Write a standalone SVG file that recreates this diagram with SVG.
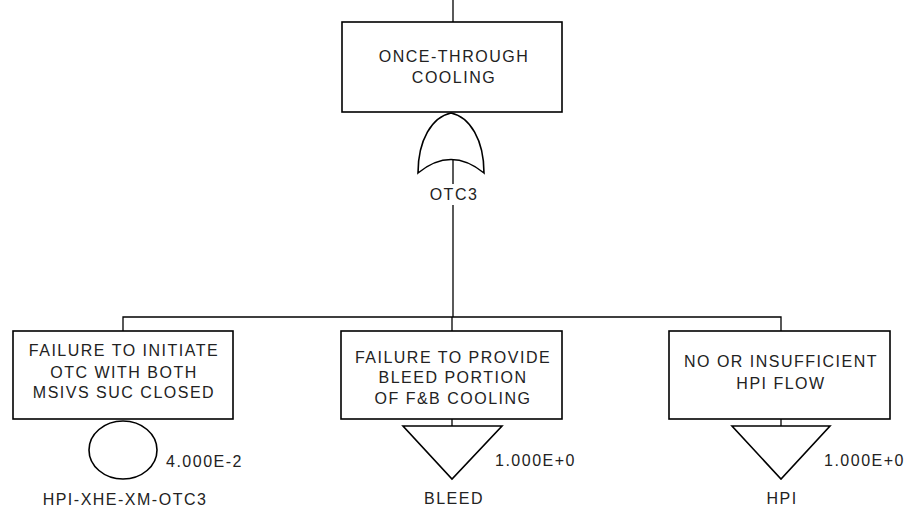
<svg xmlns="http://www.w3.org/2000/svg" width="909" height="513" viewBox="0 0 909 513">
<style>
.box{fill:#fff;stroke:#000;stroke-width:1.6}
.sym{fill:#fff;stroke:#000;stroke-width:1.6}
.ln{fill:none;stroke:#000;stroke-width:1.3}
text{font-family:"Liberation Sans",Arial,sans-serif;font-size:16px;fill:#222;letter-spacing:1.5px}
.c{text-anchor:middle}
</style>
<g id="connectors">
<line class="ln" x1="453" y1="0" x2="453" y2="22"/>
<line class="ln" x1="453" y1="159" x2="453" y2="184"/>
<line class="ln" x1="453" y1="205" x2="453" y2="317"/>
<polyline class="ln" points="123,331 123,317 781,317 781,331"/>
<line class="ln" x1="452" y1="317" x2="452" y2="331"/>
<line class="ln" x1="452" y1="419" x2="452" y2="426"/>
<line class="ln" x1="781" y1="419" x2="781" y2="426"/>
</g>
<g id="otc">
<rect class="box" x="342" y="22" width="220" height="90"/>
<text class="c" x="454" y="62">ONCE-THROUGH</text>
<text class="c" x="454" y="83">COOLING</text>
<path class="sym" d="M418,173 C418,140 432,117 451,113 C470,117 484,140 484,173 Q451,146 418,173 Z"/>
<text class="c" x="454" y="200">OTC3</text>
</g>
<g id="hpi-xhe">
<rect class="box" x="13" y="331" width="220" height="88"/>
<text class="c" x="124" y="356">FAILURE TO INITIATE</text>
<text class="c" x="124" y="378">OTC WITH BOTH</text>
<text class="c" x="124" y="398">MSIVS SUC CLOSED</text>
<ellipse class="sym" cx="123" cy="450" rx="34" ry="29"/>
<text x="166" y="467">4.000E-2</text>
<text class="c" x="125" y="505">HPI-XHE-XM-OTC3</text>
</g>
<g id="bleed">
<rect class="box" x="341" y="331" width="221" height="88"/>
<text class="c" x="453" y="363">FAILURE TO PROVIDE</text>
<text class="c" x="453" y="383">BLEED PORTION</text>
<text class="c" x="453" y="404">OF F&amp;B COOLING</text>
<polygon class="sym" points="403,426 502,426 452,479"/>
<text x="495" y="466">1.000E+0</text>
<text class="c" x="454" y="504">BLEED</text>
</g>
<g id="hpi">
<rect class="box" x="669" y="331" width="221" height="88"/>
<text class="c" x="781" y="367">NO OR INSUFFICIENT</text>
<text class="c" x="781" y="389">HPI FLOW</text>
<polygon class="sym" points="732,426 830,426 781,479"/>
<text x="824" y="466">1.000E+0</text>
<text class="c" x="782" y="504">HPI</text>
</g>
</svg>
